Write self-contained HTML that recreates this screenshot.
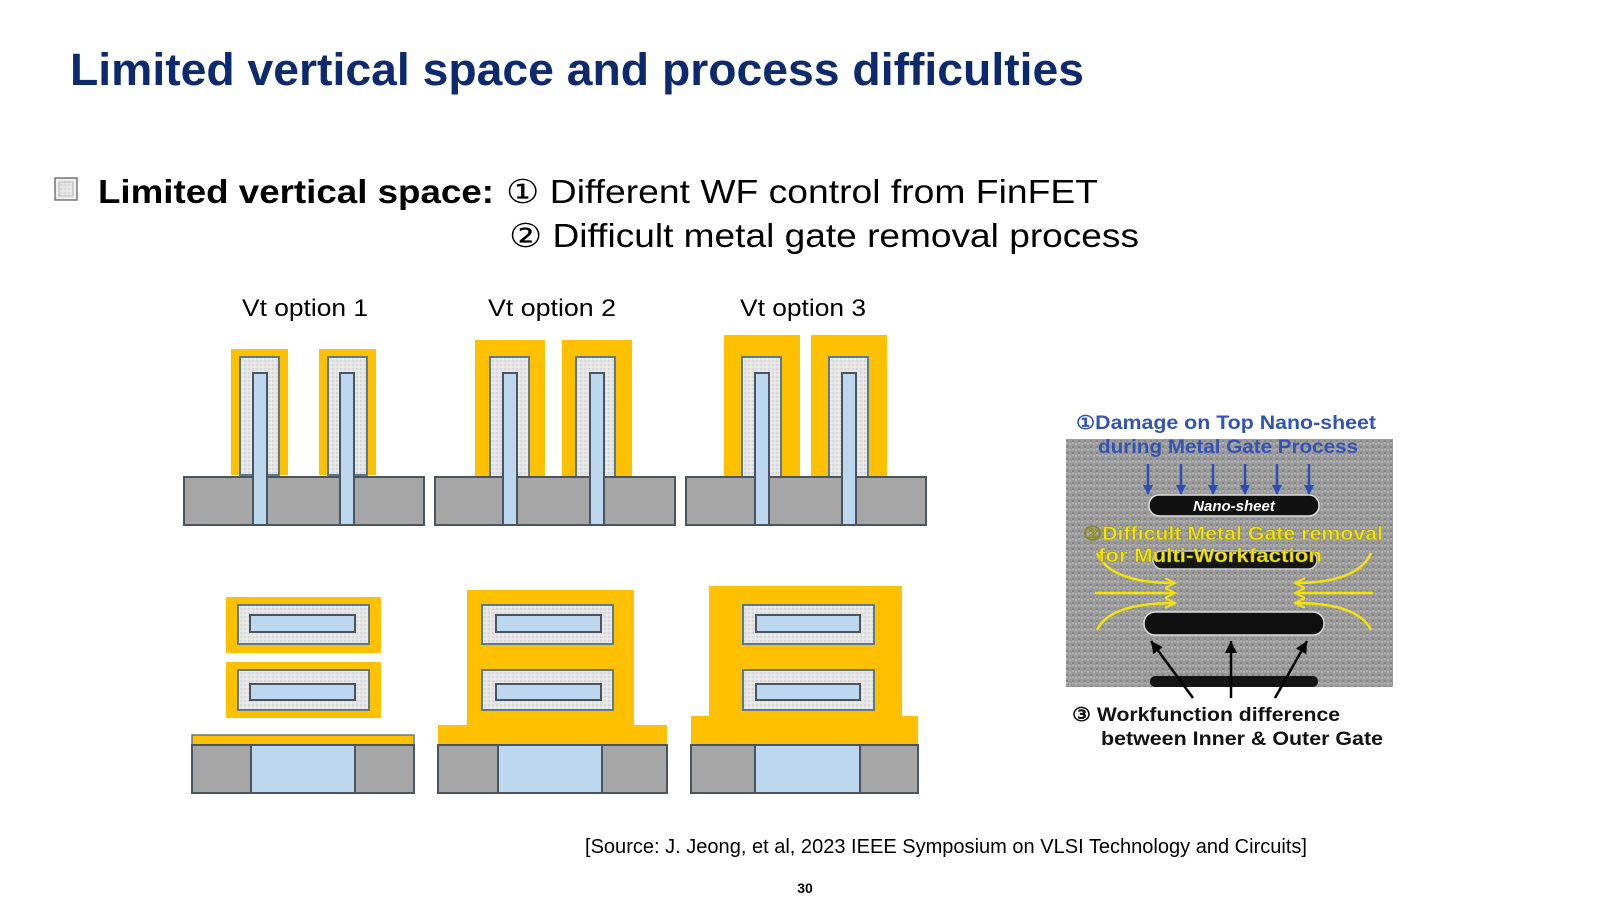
<!DOCTYPE html>
<html><head><meta charset="utf-8"><style>
html,body{margin:0;padding:0;background:#fff;width:1600px;height:900px;overflow:hidden}
svg{display:block}
</style></head><body>
<svg width="1600" height="900" viewBox="0 0 1600 900" xmlns="http://www.w3.org/2000/svg">
<defs>
<pattern id="dots" width="4" height="4" patternUnits="userSpaceOnUse">
<rect width="4" height="4" fill="#e4e4e4"/><circle cx="1" cy="1" r="0.7" fill="#c8c8c8"/><circle cx="3" cy="3" r="0.7" fill="#f4f4f4"/>
</pattern>
<pattern id="noise" width="6" height="6" patternUnits="userSpaceOnUse">
<rect width="6" height="6" fill="#9a9a9a"/><circle cx="1" cy="2" r="1" fill="#b5b5b5"/><circle cx="4" cy="5" r="1" fill="#7e7e7e"/><circle cx="4" cy="1" r="0.8" fill="#c4c4c4"/>
</pattern>
<marker id="ab" markerWidth="10" markerHeight="10" refX="9" refY="5" orient="auto" markerUnits="userSpaceOnUse"><path d="M0,0 L10,5 L0,10 z" fill="#2a4fb0"/></marker>
<marker id="ak" markerWidth="14" markerHeight="14" refX="12" refY="6" orient="auto" markerUnits="userSpaceOnUse"><path d="M0,0 L12,6 L0,12 z" fill="#000"/></marker>
<marker id="ay" markerWidth="12" markerHeight="12" refX="10" refY="5" orient="auto" markerUnits="userSpaceOnUse"><path d="M0,0 L10,5 L0,10" fill="none" stroke="#f2e20a" stroke-width="2"/></marker>
</defs>

<text x="70" y="85" font-family="Liberation Sans, sans-serif" font-weight="bold" font-size="45" fill="#0e2a6e" textLength="1014" lengthAdjust="spacingAndGlyphs">Limited vertical space and process difficulties</text>

<rect x="55" y="178" width="22" height="22" fill="#eee" stroke="#777" stroke-width="1.5"/>
<rect x="59" y="182" width="14" height="14" fill="url(#dots)" stroke="#aaa" stroke-width="0.8"/>
<text x="98" y="203" font-family="Liberation Sans, sans-serif" font-weight="bold" font-size="33" fill="#000" textLength="396" lengthAdjust="spacingAndGlyphs">Limited vertical space:</text>
<text x="506" y="203" font-family="Liberation Sans, sans-serif" font-size="33" fill="#000" textLength="592" lengthAdjust="spacingAndGlyphs">① Different WF control from FinFET</text>
<text x="509" y="247" font-family="Liberation Sans, sans-serif" font-size="33" fill="#000" textLength="630" lengthAdjust="spacingAndGlyphs">② Difficult metal gate removal process</text>

<g font-family="Liberation Sans, sans-serif" font-size="24" fill="#000">
<text x="242" y="316" textLength="126" lengthAdjust="spacingAndGlyphs">Vt option 1</text>
<text x="488" y="316" textLength="128" lengthAdjust="spacingAndGlyphs">Vt option 2</text>
<text x="740" y="316" textLength="126" lengthAdjust="spacingAndGlyphs">Vt option 3</text>
</g>

<g stroke="#4a5560" stroke-width="2">
<rect x="231" y="349" width="57" height="126" fill="#ffc000" stroke="none"/>
<rect x="319" y="349" width="57" height="126" fill="#ffc000" stroke="none"/>
<rect x="240" y="357" width="39" height="118" fill="url(#dots)" stroke="#5a7a94"/>
<rect x="328" y="357" width="39" height="118" fill="url(#dots)" stroke="#5a7a94"/>
<rect x="184" y="477" width="240" height="48" fill="#a6a6a6"/>
<rect x="253" y="373" width="14" height="152" fill="#bdd7ee"/>
<rect x="340" y="373" width="14" height="152" fill="#bdd7ee"/>

<rect x="475" y="340" width="70" height="137" fill="#ffc000" stroke="none"/>
<rect x="562" y="340" width="70" height="137" fill="#ffc000" stroke="none"/>
<rect x="490" y="357" width="39" height="120" fill="url(#dots)" stroke="#5a7a94"/>
<rect x="576" y="357" width="39" height="120" fill="url(#dots)" stroke="#5a7a94"/>
<rect x="435" y="477" width="240" height="48" fill="#a6a6a6"/>
<rect x="503" y="373" width="14" height="152" fill="#bdd7ee"/>
<rect x="590" y="373" width="14" height="152" fill="#bdd7ee"/>

<rect x="724" y="335" width="76" height="142" fill="#ffc000" stroke="none"/>
<rect x="811" y="335" width="76" height="142" fill="#ffc000" stroke="none"/>
<rect x="742" y="357" width="39" height="120" fill="url(#dots)" stroke="#5a7a94"/>
<rect x="829" y="357" width="39" height="120" fill="url(#dots)" stroke="#5a7a94"/>
<rect x="686" y="477" width="240" height="48" fill="#a6a6a6"/>
<rect x="755" y="373" width="14" height="152" fill="#bdd7ee"/>
<rect x="842" y="373" width="14" height="152" fill="#bdd7ee"/>
</g>

<g stroke="#4a5560" stroke-width="2">
<rect x="226" y="597" width="155" height="56" fill="#ffc000" stroke="none"/>
<rect x="226" y="662" width="155" height="56" fill="#ffc000" stroke="none"/>
<rect x="238" y="605" width="131" height="39" fill="url(#dots)" stroke="#5a7a94"/>
<rect x="250" y="615" width="105" height="17" fill="#bdd7ee"/>
<rect x="238" y="670" width="131" height="40" fill="url(#dots)" stroke="#5a7a94"/>
<rect x="250" y="684" width="105" height="16" fill="#bdd7ee"/>
<rect x="192" y="735" width="222" height="10" fill="#ffc000" stroke="#5a7a94" stroke-width="1.5"/>
<rect x="192" y="745" width="59" height="48" fill="#a6a6a6"/>
<rect x="251" y="745" width="104" height="48" fill="#bdd7ee"/>
<rect x="355" y="745" width="59" height="48" fill="#a6a6a6"/>

<rect x="467" y="590" width="167" height="136" fill="#ffc000" stroke="none"/>
<rect x="438" y="725" width="229" height="20" fill="#ffc000" stroke="none"/>
<rect x="482" y="605" width="131" height="39" fill="url(#dots)" stroke="#5a7a94"/>
<rect x="496" y="615" width="105" height="17" fill="#bdd7ee"/>
<rect x="482" y="670" width="131" height="40" fill="url(#dots)" stroke="#5a7a94"/>
<rect x="496" y="684" width="105" height="16" fill="#bdd7ee"/>
<rect x="438" y="745" width="60" height="48" fill="#a6a6a6"/>
<rect x="498" y="745" width="104" height="48" fill="#bdd7ee"/>
<rect x="602" y="745" width="65" height="48" fill="#a6a6a6"/>

<rect x="709" y="586" width="193" height="132" fill="#ffc000" stroke="none"/>
<rect x="691" y="716" width="227" height="29" fill="#ffc000" stroke="none"/>
<rect x="743" y="605" width="131" height="39" fill="url(#dots)" stroke="#5a7a94"/>
<rect x="756" y="615" width="104" height="17" fill="#bdd7ee"/>
<rect x="743" y="670" width="131" height="40" fill="url(#dots)" stroke="#5a7a94"/>
<rect x="756" y="684" width="104" height="16" fill="#bdd7ee"/>
<rect x="691" y="745" width="64" height="48" fill="#a6a6a6"/>
<rect x="755" y="745" width="105" height="48" fill="#bdd7ee"/>
<rect x="860" y="745" width="58" height="48" fill="#a6a6a6"/>
</g>

<g transform="translate(-5,-2)">
<rect x="1071" y="441" width="327" height="248" fill="url(#noise)"/>
<rect x="1154" y="497" width="170" height="21" rx="10" fill="#111" stroke="#ddd" stroke-width="1.5"/>
<rect x="1158" y="553" width="164" height="18" rx="9" fill="#151515" stroke="#ccc" stroke-width="1.5"/>
<rect x="1149" y="614" width="180" height="23" rx="11" fill="#101010" stroke="#ddd" stroke-width="1.5"/>
<rect x="1155" y="678" width="168" height="11" rx="5" fill="#151515"/>
<text x="1239" y="513" text-anchor="middle" font-family="Liberation Sans, sans-serif" font-style="italic" font-weight="bold" font-size="15" fill="#fff">Nano-sheet</text>
<g stroke="#2a4fb0" stroke-width="2.5" marker-end="url(#ab)">
<line x1="1153" y1="466" x2="1153" y2="496"/><line x1="1186" y1="466" x2="1186" y2="496"/><line x1="1218" y1="466" x2="1218" y2="496"/>
<line x1="1250" y1="466" x2="1250" y2="496"/><line x1="1282" y1="466" x2="1282" y2="496"/><line x1="1314" y1="466" x2="1314" y2="496"/>
</g>
<g stroke="#f2e20a" stroke-width="2.5" fill="none" marker-end="url(#ay)">
<path d="M1102,555 Q1115,585 1180,585"/><path d="M1100,595 L1180,595"/><path d="M1102,632 Q1115,605 1180,605"/>
<path d="M1376,555 Q1363,585 1300,585"/><path d="M1378,595 L1300,595"/><path d="M1376,632 Q1363,605 1300,605"/>
</g>
<g stroke="#000" stroke-width="2.5" marker-end="url(#ak)">
<line x1="1198" y1="700" x2="1156" y2="643"/><line x1="1236" y1="700" x2="1236" y2="643"/><line x1="1280" y1="700" x2="1312" y2="643"/>
</g>
<g font-family="Liberation Sans, sans-serif" font-weight="bold" font-size="19">
<text x="1081" y="431" fill="#3454b4" textLength="300" lengthAdjust="spacingAndGlyphs">①Damage on Top Nano-sheet</text>
<text x="1103" y="455" fill="#3454b4" textLength="260" lengthAdjust="spacingAndGlyphs">during Metal Gate Process</text>
<text x="1088" y="542" fill="#f2e20a" stroke="#8a8a30" stroke-width="0.4" textLength="300" lengthAdjust="spacingAndGlyphs">②Difficult Metal Gate removal</text>
<text x="1103" y="564" fill="#f2e20a" stroke="#8a8a30" stroke-width="0.4" textLength="224" lengthAdjust="spacingAndGlyphs">for Multi-Workfaction</text>
<text x="1077" y="723" fill="#111" textLength="268" lengthAdjust="spacingAndGlyphs">③ Workfunction difference</text>
<text x="1106" y="747" fill="#111" textLength="282" lengthAdjust="spacingAndGlyphs">between Inner &amp; Outer Gate</text>
</g>
</g>

<text x="585" y="853" font-family="Liberation Sans, sans-serif" font-size="20" fill="#000" textLength="722" lengthAdjust="spacingAndGlyphs">[Source: J. Jeong, et al, 2023 IEEE Symposium on VLSI Technology and Circuits]</text>
<text x="805" y="893" text-anchor="middle" font-family="Liberation Sans, sans-serif" font-weight="bold" font-size="14" fill="#000">30</text>
</svg>
</body></html>
